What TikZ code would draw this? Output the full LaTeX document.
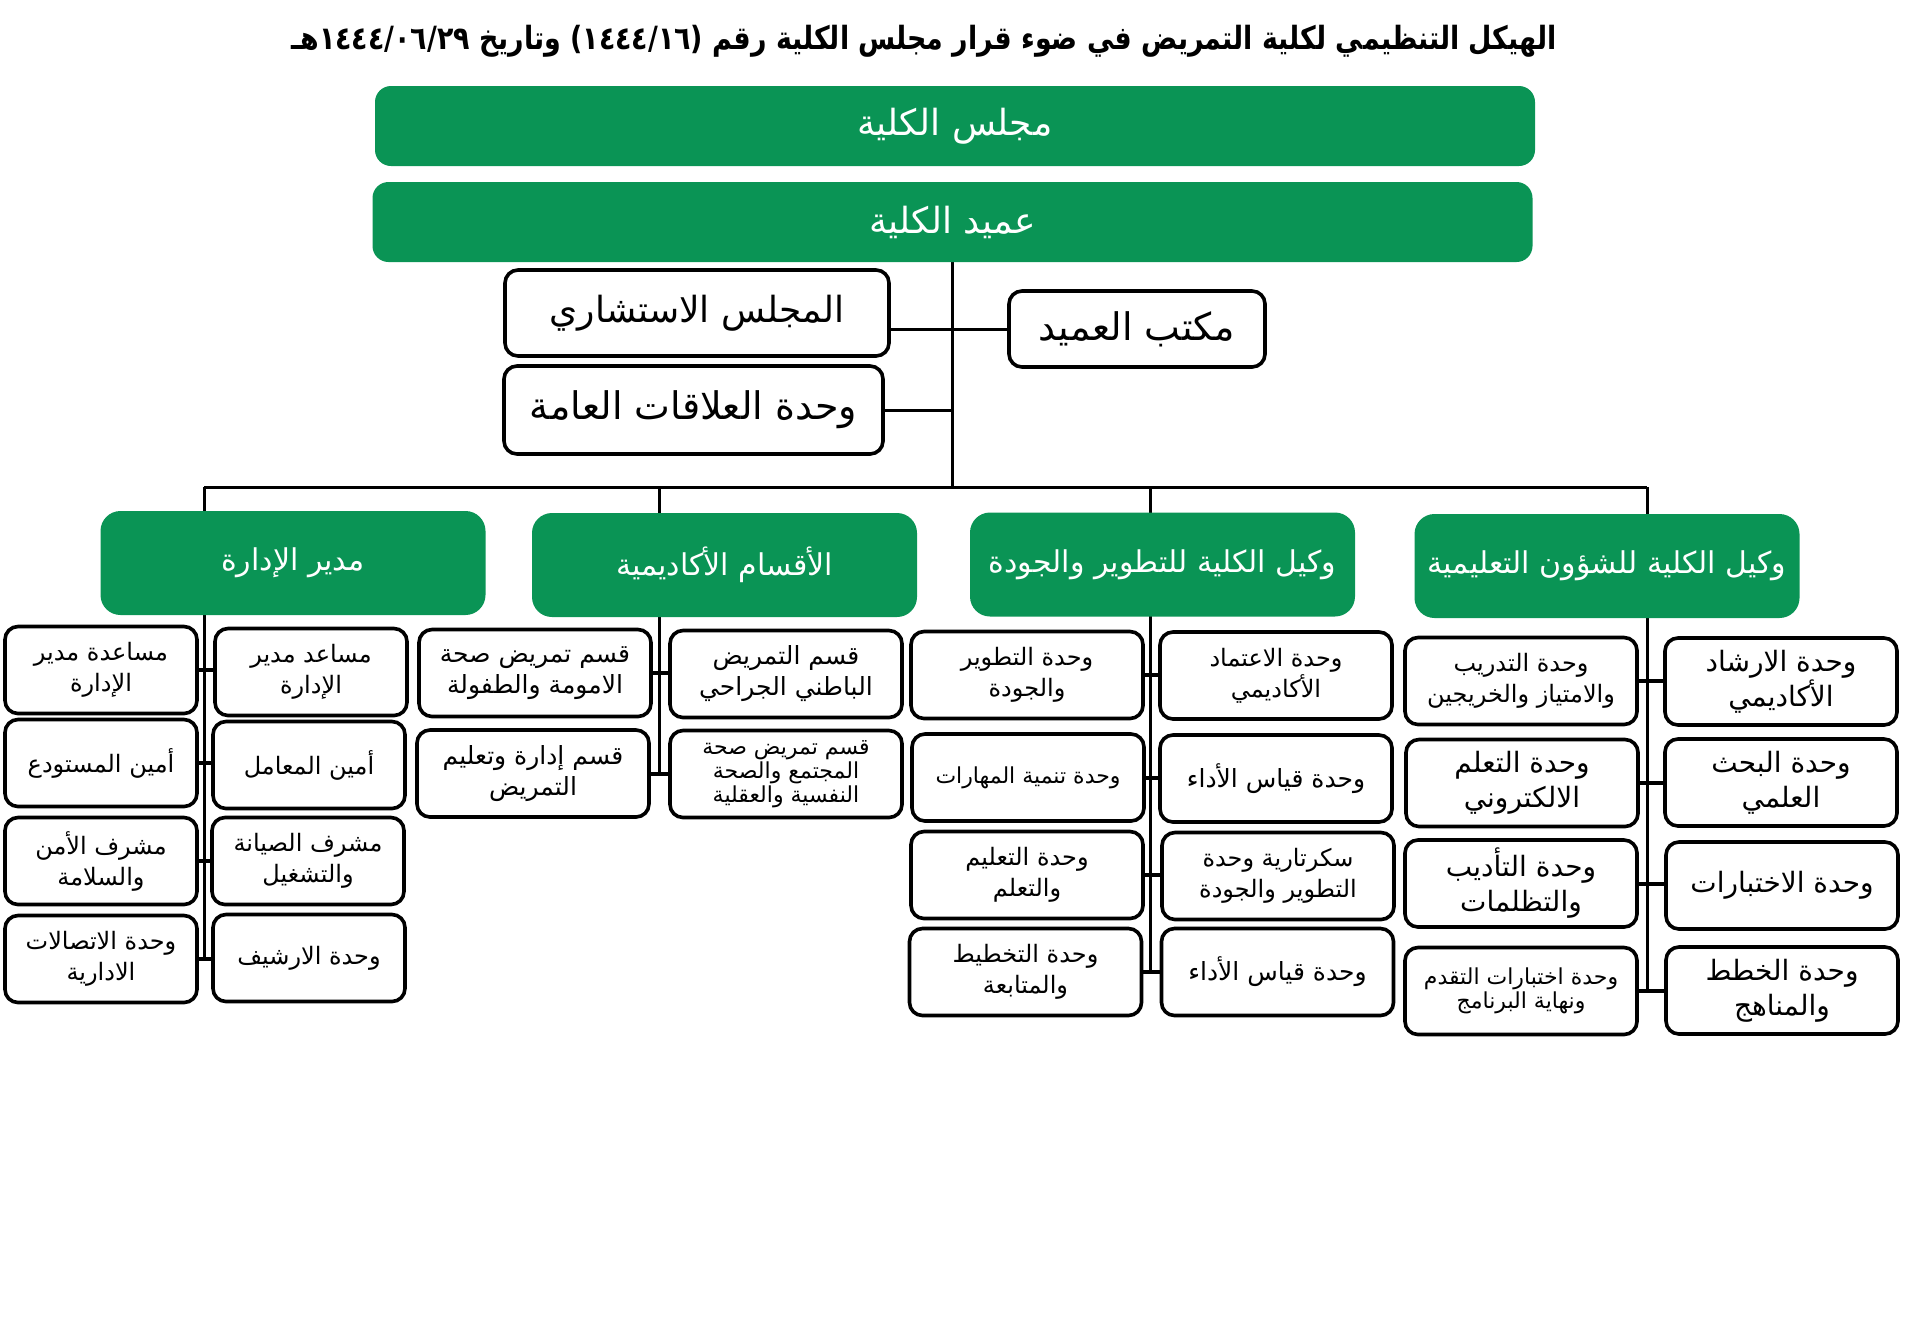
\documentclass[tikz,border=0pt]{standalone}
\usepackage{fontspec}
\TeXXeTstate=1
\newfontfamily\arabicfont[Script=Arabic]{DejaVu Sans}
\newfontfamily\titlefont[Script=Arabic,FakeStretch=0.84]{DejaVu Sans Bold}
\usepackage{tikz}
\usetikzlibrary{positioning,backgrounds}
\definecolor{CollegeGreen}{HTML}{0A9455}
\newcommand{\ar}[1]{\beginR #1\endR}

\begin{document}
\begin{tikzpicture}[
    x=0.5pt, y=-0.5pt,
    headbox/.style={
        fill=CollegeGreen,
        text=white,
        rounded corners=10pt,
        minimum width=192.5pt,
        minimum height=52pt,
        inner sep=2pt,
        font=\arabicfont\fontsize{15}{18}\selectfont,
    },
    bigbar/.style={
        headbox,
        rounded corners=8pt,
        minimum width=580pt,
        minimum height=40pt,
        font=\arabicfont\fontsize{18}{21}\selectfont,
    },
    unitbox/.style={
        draw=black,
        line width=1.8pt,
        fill=white,
        rounded corners=6.5pt,
        minimum width=116pt,
        minimum height=43.5pt,
        align=center,
        inner sep=2pt,
        font=\arabicfont\fontsize{12}{15.5}\selectfont,
    },
    narrowbox/.style={unitbox, minimum width=96pt},
    bigtext/.style={font=\arabicfont\fontsize{14}{17.5}\selectfont},
    smalltext/.style={font=\arabicfont\fontsize{11}{12}\selectfont},
    topbox/.style={unitbox, font=\arabicfont\fontsize{19}{22}\selectfont},
    link/.style={line width=1.5pt},
    stub/.style={line width=2pt},
]
\useasboundingbox (0,0) rectangle (1931,1330);

% title
\node[font=\titlefont\fontsize{16}{20}\selectfont] (title) at (924,41)
    {\ar{الهيكل التنظيمي لكلية التمريض في ضوء قرار مجلس الكلية رقم (١٤٤٤/١٦) وتاريخ ١٤٤٤/٠٦/٢٩هـ}};

% council and dean
\node[bigbar] (council) at (955,126) {\ar{مجلس الكلية}};
\node[bigbar] (dean) at (952.5,222) {\ar{عميد الكلية}};

\node[topbox, minimum width=192pt, minimum height=43pt, font=\arabicfont\fontsize{18}{22}\selectfont] (advisory) at (697,313) {\ar{المجلس الاستشاري}};
\node[topbox, minimum width=189.5pt, minimum height=44pt] (relations) at (693.5,410) {\ar{وحدة العلاقات العامة}};
\node[topbox, minimum width=128pt, minimum height=38pt] (office) at (1137,329) {\ar{مكتب العميد}};

% heads
\node[headbox] (admin) at (293,563) {\ar{مدير الإدارة}};
\node[headbox] (depts) at (724.5,565) {\ar{الأقسام الأكاديمية}};
\node[headbox] (quality) at (1162.5,564.5) {\ar{وكيل الكلية للتطوير والجودة}};
\node[headbox] (affairs) at (1607,566) {\ar{وكيل الكلية للشؤون التعليمية}};

% administration units
\node[narrowbox] (a1) at (101,670) {\ar{مساعدة مدير}\\\ar{الإدارة}};
\node[narrowbox] (a2) at (101,763) {\ar{أمين المستودع}};
\node[narrowbox] (a3) at (101,861) {\ar{مشرف الأمن}\\\ar{والسلامة}};
\node[narrowbox] (a4) at (101,959) {\ar{وحدة الاتصالات}\\\ar{الادارية}};
\node[narrowbox] (b1) at (311,672) {\ar{مساعد مدير}\\\ar{الإدارة}};
\node[narrowbox] (b2) at (309,765) {\ar{أمين المعامل}};
\node[narrowbox] (b3) at (308,861) {\ar{مشرف الصيانة}\\\ar{والتشغيل}};
\node[narrowbox] (b4) at (309,958) {\ar{وحدة الارشيف}};

% academic departments
\node[unitbox, font=\arabicfont\fontsize{12.5}{15.5}\selectfont] (c1) at (535,673) {\ar{قسم تمريض صحة}\\\ar{الامومة والطفولة}};
\node[unitbox, font=\arabicfont\fontsize{12.5}{15.5}\selectfont] (c2) at (533,773.5) {\ar{قسم إدارة وتعليم}\\\ar{التمريض}};
\node[unitbox, font=\arabicfont\fontsize{12.5}{15.5}\selectfont] (d1) at (786,674) {\ar{قسم التمريض}\\\ar{الباطني الجراحي}};
\node[unitbox, smalltext] (d2) at (786,774) {\ar{قسم تمريض صحة}\\\ar{المجتمع والصحة}\\\ar{النفسية والعقلية}};

% development and quality units
\node[unitbox] (e1) at (1027,675) {\ar{وحدة التطوير}\\\ar{والجودة}};
\node[unitbox, font=\arabicfont\fontsize{11}{15.5}\selectfont] (e2) at (1028,777.5) {\ar{وحدة تنمية المهارات}};
\node[unitbox] (e3) at (1027,875) {\ar{وحدة التعليم}\\\ar{والتعلم}};
\node[unitbox] (e4) at (1025.5,972) {\ar{وحدة التخطيط}\\\ar{والمتابعة}};
\node[unitbox] (f1) at (1276,675.5) {\ar{وحدة الاعتماد}\\\ar{الأكاديمي}};
\node[unitbox, font=\arabicfont\fontsize{12.5}{15.5}\selectfont] (f2) at (1276,778.5) {\ar{وحدة قياس الأداء}};
\node[unitbox] (f3) at (1278,876) {\ar{سكرتارية وحدة}\\\ar{التطوير والجودة}};
\node[unitbox, font=\arabicfont\fontsize{12.5}{15.5}\selectfont] (f4) at (1277.5,972) {\ar{وحدة قياس الأداء}};

% educational affairs units
\node[unitbox] (g1) at (1521,681) {\ar{وحدة التدريب}\\\ar{والامتياز والخريجين}};
\node[unitbox, bigtext] (g2) at (1522,783) {\ar{وحدة التعلم}\\\ar{الالكتروني}};
\node[unitbox, bigtext] (g3) at (1521,883.5) {\ar{وحدة التأديب}\\\ar{والتظلمات}};
\node[unitbox, smalltext] (g4) at (1521,991) {\ar{وحدة اختبارات التقدم}\\\ar{ونهاية البرنامج}};
\node[unitbox, bigtext] (h1) at (1781,681.5) {\ar{وحدة الارشاد}\\\ar{الأكاديمي}};
\node[unitbox, bigtext] (h2) at (1781,782.5) {\ar{وحدة البحث}\\\ar{العلمي}};
\node[unitbox, bigtext] (h3) at (1782,885.5) {\ar{وحدة الاختبارات}};
\node[unitbox, bigtext] (h4) at (1782,990.5) {\ar{وحدة الخطط}\\\ar{والمناهج}};

\coordinate (busA) at (204,487);
\coordinate (busB) at (659,487);
\coordinate (busC) at (1150,487);
\coordinate (busD) at (1647,487);

\begin{pgfonlayer}{background}
\draw[link] (dean.south) -- (dean.south |- busA);
\draw[link] (busA) -- (busD);
\draw[link] (office.west) -- (office.west -| advisory.east);
\draw[link] (relations.east) -- (relations.east -| dean.south);

% trunks
\draw[link] (busA) -- (busA |- a4.east);
\draw[link] (busB) -- (busB |- c2.east);
\draw[link] (busC) -- (busC |- e4.east);
\draw[link] (busD) -- (busD |- g4.east);

% stubs
\draw[stub] (a1.east) -- (b1.west |- a1.east);
\draw[stub] (a2.east) -- (b2.west |- a2.east);
\draw[stub] (a3.east) -- (b3.west |- a3.east);
\draw[stub] (a4.east) -- (b4.west |- a4.east);
\draw[stub] (c1.east) -- (d1.west |- c1.east);
\draw[stub] (c2.east) -- (d2.west |- c2.east);
\draw[stub] (e1.east) -- (f1.west |- e1.east);
\draw[stub] (e2.east) -- (f2.west |- e2.east);
\draw[stub] (e3.east) -- (f3.west |- e3.east);
\draw[stub] (e4.east) -- (f4.west |- e4.east);
\draw[stub] (g1.east) -- (h1.west |- g1.east);
\draw[stub] (g2.east) -- (h2.west |- g2.east);
\draw[stub] (g3.east) -- (h3.west |- g3.east);
\draw[stub] (g4.east) -- (h4.west |- g4.east);
\end{pgfonlayer}
\end{tikzpicture}
\end{document}
